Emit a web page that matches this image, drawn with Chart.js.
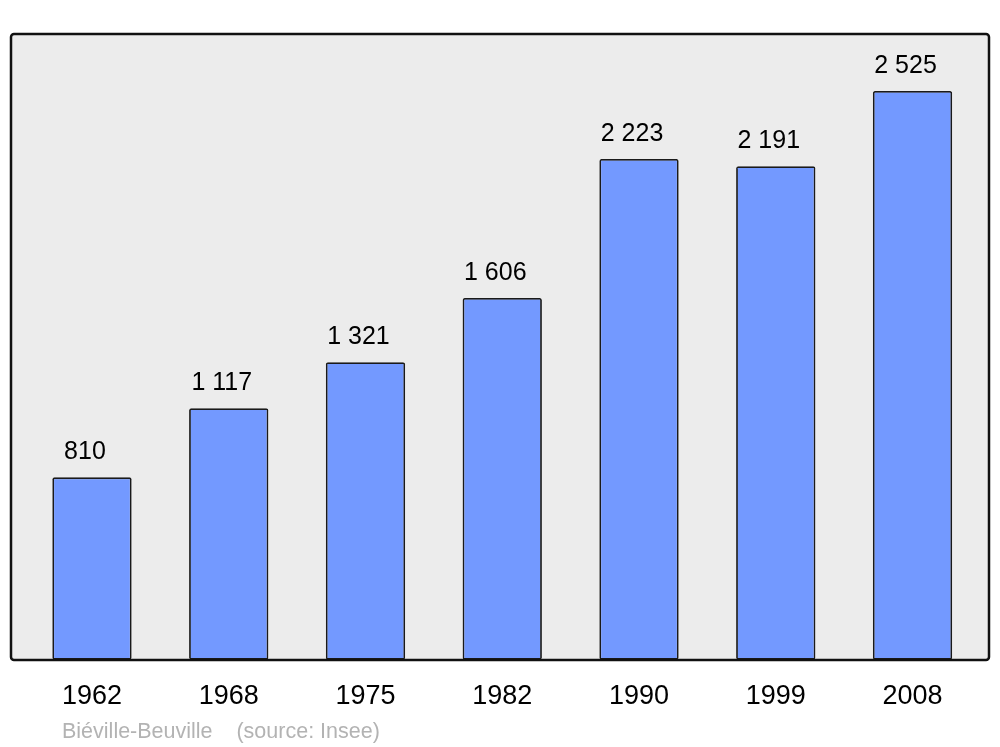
<!DOCTYPE html>
<html>
<head>
<meta charset="utf-8">
<script src="https://cdn.jsdelivr.net/npm/chart.js@4/dist/chart.umd.min.js"></script>
<style>
  html, body { margin: 0; padding: 0; background: #fff; }
  #wrap { width: 1000px; height: 747px; }
</style>
</head>
<body>
<div id="wrap"><canvas id="myChart" width="1000" height="747"></canvas></div>
<script>
var years = ['1962', '1968', '1975', '1982', '1990', '1999', '2008'];
var population = [810, 1117, 1321, 1606, 2223, 2191, 2525];
var yMax = 2778;
var footerText = 'Biéville-Beuville    (source: Insee)';

function fmt(n) {
    return String(n).replace(/\B(?=(\d{3})+(?!\d))/g, ' ');
}

// grey panel behind the bars, and its outline on top
var framePlugin = {
    id: 'frame',
    beforeDatasetsDraw: function(chart) {
        var c = chart.ctx;
        c.save();
        c.beginPath();
        c.roundRect(11, 34, 978, 626, 3);
        c.fillStyle = '#ececec';
        c.fill();
        c.restore();
    },
    afterDatasetsDraw: function(chart) {
        var c = chart.ctx;
        c.save();
        c.beginPath();
        c.roundRect(11, 34, 978, 626, 3);
        c.lineWidth = 2.5;
        c.strokeStyle = '#111';
        c.stroke();

        // value labels above bars
        var meta = chart.getDatasetMeta(0);
        c.fillStyle = '#000';
        c.font = '25px "Liberation Sans", Arial, sans-serif';
        c.textAlign = 'center';
        c.textBaseline = 'alphabetic';
        meta.data.forEach(function(bar, i) {
            c.fillText(fmt(population[i]), bar.x - 7, bar.y - 18);
        });

        // footer
        c.fillStyle = '#b3b3b3';
        c.font = '21.5px "Liberation Sans", Arial, sans-serif';
        c.textAlign = 'left';
        c.fillText(footerText, 62, 738);
        c.restore();
    }
};

var ctx = document.getElementById('myChart').getContext('2d');
var chart = new Chart(ctx, {
    type: 'bar',
    data: {
        labels: years,
        datasets: [{
            data: population,
            backgroundColor: '#7399ff',
            borderColor: '#1a1a1a',
            borderWidth: 1.8,
            borderRadius: 2,
            borderSkipped: false,
            barPercentage: 0.58,
            categoryPercentage: 1
        }]
    },
    options: {
        responsive: false,
        animation: false,
        layout: {
            padding: { left: 23.6, right: 19.1, top: 34, bottom: 12.8 }
        },
        plugins: {
            legend: { display: false },
            tooltip: { enabled: false }
        },
        scales: {
            x: {
                grid: { display: false, drawTicks: false },
                border: { display: false },
                ticks: {
                    color: '#000',
                    padding: 21,
                    font: { family: '"Liberation Sans", Arial, sans-serif', size: 27 }
                }
            },
            y: {
                display: false,
                min: 0,
                max: yMax
            }
        }
    },
    plugins: [framePlugin]
});
</script>
</body>
</html>
